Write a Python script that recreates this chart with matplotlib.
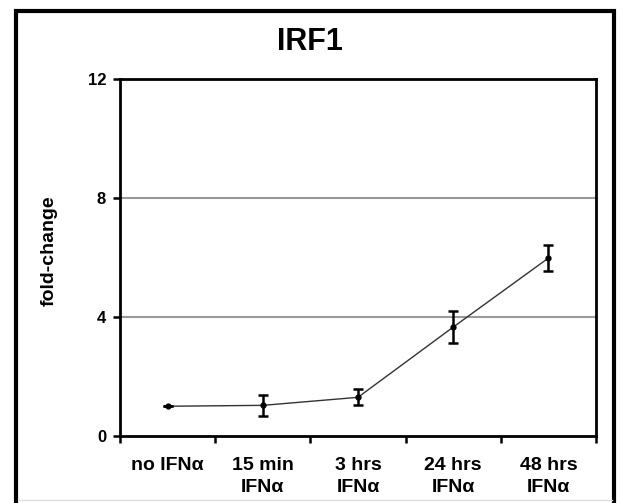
import matplotlib
matplotlib.use('Agg')
import matplotlib.pyplot as plt
from matplotlib.patches import Rectangle
from matplotlib.lines import Line2D

plt.rcParams['font.family'] = ['Liberation Sans', 'DejaVu Sans']
plt.rcParams['font.weight'] = 'bold'

# data
categories = ['no IFNα', '15 min\nIFNα', '3 hrs\nIFNα', '24 hrs\nIFNα', '48 hrs\nIFNα']
fold_change = [1.0, 1.03, 1.3, 3.66, 5.98]
fold_err = [0.0, 0.35, 0.27, 0.54, 0.44]
y_ticks = [0, 4, 8, 12]

fig = plt.figure(figsize=(6.2, 5.03), dpi=100)
ax = fig.add_axes([0.1935, 0.1332, 0.7678, 0.7098])

x = [i + 0.5 for i in range(len(categories))]
ax.plot(x, fold_change, color='#333333', linewidth=1.0, zorder=3)
ax.errorbar(x, fold_change, yerr=fold_err, fmt='o', color='black', markersize=3.5,
            ecolor='black', elinewidth=1.8, capsize=3.5, capthick=1.8, zorder=4)

ax.set_xlim(0, len(categories))
ax.set_ylim(0, 12)
ax.set_yticks(y_ticks)
ax.set_yticklabels([str(v) for v in y_ticks], fontsize=12, fontweight='bold')

# boundaries get the tick marks, centres get the labels
ax.set_xticks(range(len(categories) + 1))
ax.set_xticklabels([])
ax.set_xticks(x, minor=True)
ax.set_xticklabels(categories, minor=True, fontsize=14, fontweight='bold', linespacing=1.4)
ax.tick_params(axis='x', which='minor', length=0, pad=15)
ax.tick_params(axis='both', which='major', direction='out', length=5, width=1.8)
ax.tick_params(axis='y', pad=5)

for v in [4, 8]:
    ax.axhline(v, color='#999999', linewidth=1.5, zorder=1)

for s in ax.spines.values():
    s.set_linewidth(2)

ax.set_ylabel('fold-change', fontsize=14, fontweight='bold')
ax.yaxis.set_label_coords(-0.132, 0.52)
fig.text(0.5, 1 - 42 / 503, 'IRF1', ha='center', va='center', fontsize=22, fontweight='bold')

# outer frame
fig.patches.append(Rectangle((16 / 620, -0.02), 598 / 620, 1.02 - 11 / 503,
                             transform=fig.transFigure, fill=False,
                             edgecolor='black', linewidth=3))
fig.lines.append(Line2D([18 / 620, 612 / 620], [3 / 503, 3 / 503],
                        transform=fig.transFigure, color='#dddddd', linewidth=1))

fig.savefig('out.png', dpi=100)
